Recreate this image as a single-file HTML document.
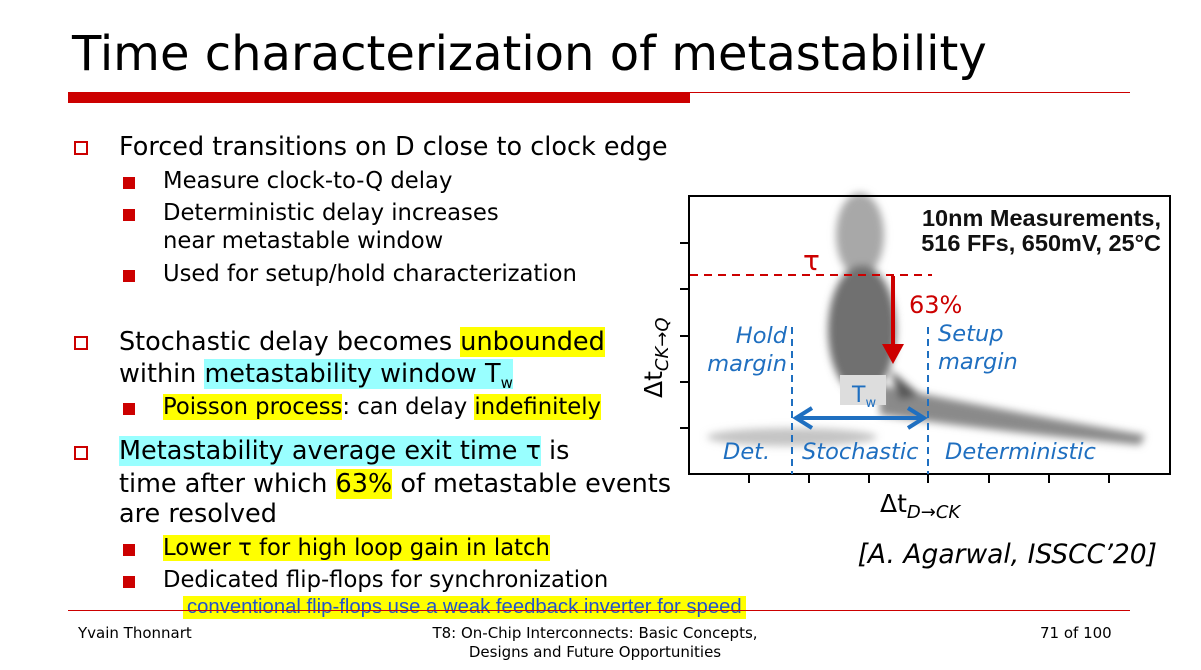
<!DOCTYPE html>
<html><head><meta charset="utf-8"><style>
body{margin:0;width:1201px;height:670px;background:#fff;position:relative;overflow:hidden;font-family:"DejaVu Sans","Liberation Sans",sans-serif;color:#000}
.a{position:absolute;white-space:nowrap}
.sq{position:absolute;width:14px;height:14px;border:2px solid #c00;box-sizing:border-box}
.bl{position:absolute;width:12px;height:12px;background:#c00}
.t1{font-size:25.5px}.t2{font-size:22.7px}
.y{background:#ffff00}.c{background:#99ffff}
</style></head><body>
<div class="a" style="left:72px;top:26px;font-size:48px">Time characterization of metastability</div>
<div class="a" style="left:68px;top:92px;width:622px;height:11px;background:#c00"></div>
<div class="a" style="left:690px;top:92px;width:440px;height:1px;background:#c00"></div>

<div class="sq" style="left:74px;top:141px"></div>
<div class="a t1" style="left:119px;top:132px">Forced transitions on D close to clock edge</div>
<div class="bl" style="left:123px;top:177px"></div>
<div class="a t2" style="left:163px;top:168px">Measure clock-to-Q delay</div>
<div class="bl" style="left:123px;top:209px"></div>
<div class="a t2" style="left:163px;top:200px">Deterministic delay increases</div>
<div class="a t2" style="left:163px;top:228px">near metastable window</div>
<div class="bl" style="left:123px;top:270px"></div>
<div class="a t2" style="left:163px;top:261px">Used for setup/hold characterization</div>

<div class="sq" style="left:74px;top:336px"></div>
<div class="a t1" style="left:119px;top:327px">Stochastic delay becomes <span class="y">unbounded</span></div>
<div class="a t1" style="left:119px;top:359px">within <span class="c">metastability window T<sub style="font-size:15px">w</sub></span></div>
<div class="bl" style="left:123px;top:403px"></div>
<div class="a t2" style="left:163px;top:394px"><span class="y">Poisson process</span>: can delay <span class="y">indefinitely</span></div>
<div class="sq" style="left:74px;top:446px"></div>
<div class="a t1" style="left:119px;top:436px"><span class="c">Metastability average exit time τ</span> is</div>
<div class="a t1" style="left:119px;top:469px">time after which <span class="y">63%</span> of metastable events</div>
<div class="a t1" style="left:119px;top:499px">are resolved</div>
<div class="bl" style="left:123px;top:544px"></div>
<div class="a t2" style="left:163px;top:535px"><span class="y">Lower τ for high loop gain in latch</span></div>
<div class="bl" style="left:123px;top:576px"></div>
<div class="a t2" style="left:163px;top:567px">Dedicated flip-flops for synchronization</div>
<div class="a y" style="left:183px;top:596px;font-family:'Liberation Sans',sans-serif;font-size:20.3px;color:#2255cc;padding:0 4px">conventional flip-flops use a weak feedback inverter for speed</div>
<div class="a" style="left:68px;top:610px;width:1062px;height:1px;background:#c00"></div>
<div class="a" style="left:78px;top:624px;font-size:15px">Yvain Thonnart</div>
<div class="a" style="left:410px;top:624px;font-size:15px;text-align:center;width:370px;line-height:19px;white-space:normal">T8: On-Chip Interconnects: Basic Concepts, Designs and Future Opportunities</div>
<div class="a" style="left:1040px;top:624px;font-size:15px">71 of 100</div>

<svg class="a" style="left:0;top:0" width="1201" height="670">
<defs><filter id="b"><feGaussianBlur stdDeviation="4"/></filter></defs>
<g filter="url(#b)">
<ellipse cx="792" cy="437" rx="85" ry="9" fill="#c4c4c4"/>
<path d="M880 385 Q1000 410 1145 435 L1140 445 Q1000 432 880 415 Z" fill="#8a8a8a"/>
<ellipse cx="860" cy="235" rx="24" ry="42" fill="#a8a8a8"/>
<ellipse cx="862" cy="330" rx="34" ry="65" fill="#707070"/>
<path d="M890 370 L920 395 L900 400 Z" fill="#555"/>
</g>
<rect x="840" y="375" width="46" height="30" fill="#ddd"/>
<text x="852" y="402" font-family="DejaVu Sans,sans-serif" font-size="22" fill="#1f6fc0">T<tspan font-size="13" dy="5">w</tspan></text>
<rect x="689" y="196" width="481" height="278" fill="none" stroke="#000" stroke-width="2"/>
<g stroke="#000" stroke-width="2">
<line x1="680" y1="243" x2="689" y2="243"/><line x1="680" y1="289" x2="689" y2="289"/><line x1="680" y1="336" x2="689" y2="336"/><line x1="680" y1="382" x2="689" y2="382"/><line x1="680" y1="428" x2="689" y2="428"/>
<line x1="749" y1="474" x2="749" y2="483"/><line x1="809" y1="474" x2="809" y2="483"/><line x1="869" y1="474" x2="869" y2="483"/><line x1="928" y1="474" x2="928" y2="483"/><line x1="989" y1="474" x2="989" y2="483"/><line x1="1049" y1="474" x2="1049" y2="483"/><line x1="1109" y1="474" x2="1109" y2="483"/>
</g>
<line x1="690" y1="275" x2="932" y2="275" stroke="#c00" stroke-width="2" stroke-dasharray="8,6"/>
<text x="803" y="270" font-size="28" fill="#c00" font-family="DejaVu Sans,sans-serif">τ</text>
<line x1="893" y1="276" x2="893" y2="350" stroke="#c00" stroke-width="4"/>
<path d="M882 344 L904 344 L893 364 Z" fill="#c00"/>
<text x="909" y="313" font-size="24" fill="#c00" font-family="DejaVu Sans,sans-serif">63%</text>
<g stroke="#1f6fc0" stroke-width="2" stroke-dasharray="7,5"><line x1="792" y1="327" x2="792" y2="474"/><line x1="928" y1="327" x2="928" y2="474"/></g>
<line x1="796" y1="418" x2="924" y2="418" stroke="#1f6fc0" stroke-width="4"/>
<path d="M812 408 L796 418 L812 428 M908 408 L924 418 L908 428" fill="none" stroke="#1f6fc0" stroke-width="4"/>
<g font-family="DejaVu Sans,sans-serif" font-style="italic" font-size="22.5" fill="#1f6fc0">
<text x="787" y="343" text-anchor="end">Hold</text><text x="787" y="371" text-anchor="end">margin</text>
<text x="938" y="341">Setup</text><text x="938" y="369">margin</text>
<text x="723" y="459">Det.</text><text x="802" y="459">Stochastic</text><text x="945" y="459">Deterministic</text>
</g>
<g font-family="Liberation Sans,sans-serif" font-weight="bold" font-size="23.5" fill="#111">
<text x="1161" y="226" text-anchor="end">10nm Measurements,</text>
<text x="1161" y="251" text-anchor="end">516 FFs, 650mV, 25°C</text>
</g>
<text x="880" y="512" font-size="25" font-family="DejaVu Sans,sans-serif">Δt<tspan font-size="18" font-style="italic" dy="6">D→CK</tspan></text>
<text transform="translate(662,398) rotate(-90)" font-size="25" font-family="DejaVu Sans,sans-serif">Δt<tspan font-size="18" font-style="italic" dy="6">CK→Q</tspan></text>
<text x="1157" y="563" text-anchor="end" font-size="26.5" font-style="italic" font-family="DejaVu Sans,sans-serif">[A. Agarwal, ISSCC’20]</text>
</svg>
</body></html>
